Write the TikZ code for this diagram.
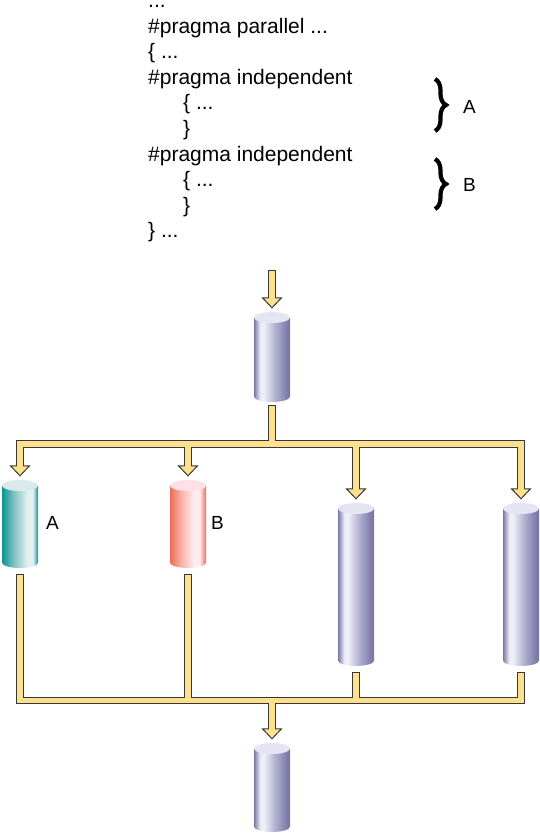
\documentclass[tikz,border=0pt]{standalone}
\usepackage{fontspec}
\setmainfont{Liberation Sans}
\usetikzlibrary{decorations.pathreplacing,calc}

% pipe colours
\definecolor{pipeline}{RGB}{55,55,55}
\definecolor{pipeyellow}{RGB}{253,224,142}
% drum colours
\definecolor{pdark}{RGB}{122,120,168}
\definecolor{pmid}{RGB}{175,174,206}
\definecolor{plight}{RGB}{238,238,247}
\definecolor{plid}{RGB}{228,228,242}
\definecolor{tdark}{RGB}{10,148,146}
\definecolor{tmid}{RGB}{120,190,188}
\definecolor{tlight}{RGB}{226,240,240}
\definecolor{tlid}{RGB}{218,234,234}
\definecolor{rdark}{RGB}{236,108,88}
\definecolor{rmid}{RGB}{248,175,165}
\definecolor{rlight}{RGB}{255,236,240}
\definecolor{rlid}{RGB}{255,224,230}

\pgfdeclarehorizontalshading{drumpurple}{100bp}{color(0bp)=(pdark); color(25bp)=(pdark); color(29bp)=(pmid); color(34bp)=(plight); color(39bp)=(plight); color(55bp)=(pmid); color(72bp)=(pdark); color(100bp)=(pdark)}
\pgfdeclarehorizontalshading{drumteal}{100bp}{color(0bp)=(tdark); color(25bp)=(tdark); color(40bp)=(tmid); color(60bp)=(tlight); color(68bp)=(tlight); color(75bp)=(tdark); color(100bp)=(tdark)}
\pgfdeclarehorizontalshading{drumred}{100bp}{color(0bp)=(rdark); color(25bp)=(rdark); color(40bp)=(rmid); color(58bp)=(rlight); color(66bp)=(rlight); color(75bp)=(rdark); color(100bp)=(rdark)}

% a shaded drum with a light lid, plus a named node covering it
\newcommand\drum[6]{%
  \shade[shading=#5] ({#2-18},{#3+5.5}) -- ({#2-18},{#4-5.5})
    arc[start angle=180,end angle=0,x radius=18,y radius=5.5]
    -- ({#2+18},{#3+5.5}) -- cycle;
  \fill[#6] (#2,{#3+5.5}) ellipse[x radius=18,y radius=5.5];
  \node[inner sep=0,minimum width=36pt,minimum height={#4-#3}] (#1) at (#2,{(#3+#4)/2}) {};
}

% every pipe run, drawn once as outline and once as fill
\newcommand\pipework[1]{%
  \draw[#1] (in) -- ([yshift=14pt]top.north);
  \draw[#1] ([yshift=-6.75pt]top.south) -- (split);
  \draw[#1] ([yshift=14pt]A.north) |- (split -| D.north) -- ([yshift=14pt]D.north);
  \draw[#1] (split -| B.north) -- ([yshift=14pt]B.north);
  \draw[#1] (split -| C.north) -- ([yshift=14pt]C.north);
  \draw[#1] ([yshift=-9.75pt]A.south) |- (merge -| D.south) -- ([yshift=-9.75pt]D.south);
  \draw[#1] ([yshift=-9.75pt]B.south) -- (merge -| B.south);
  \draw[#1] ([yshift=-9.75pt]C.south) -- (merge -| C.south);
  \draw[#1] (merge) -- ([yshift=14pt]bot.north);
}

% arrow head sitting just above a drum
\newcommand\headon[1]{%
  \filldraw[pipehead] ([xshift=-9.5pt,yshift=14pt]#1.north) -- ([yshift=4pt]#1.north)
    -- ([xshift=9.5pt,yshift=14pt]#1.north) -- cycle;
}

\begin{document}
\begin{tikzpicture}[x=1pt,y=-1pt,
  code/.style={anchor=base west,inner sep=0,font=\fontsize{21}{25}\selectfont},
  tag/.style={anchor=base west,inner sep=0,font=\fontsize{19}{23}\selectfont},
  pipeedge/.style={draw=pipeline,line width=7.5pt,line cap=rect,line join=miter},
  pipefill/.style={draw=pipeyellow,line width=5.5pt,line cap=rect,line join=miter},
  pipehead/.style={fill=pipeyellow,draw=pipeline,line width=1pt,line join=miter},
  curly/.style={decorate,decoration={brace,amplitude=11pt},line width=4.2pt}]
\useasboundingbox (0,0) rectangle (540,833);

% source code
\node[code] (l1)  at (148,7.4)   {\smash{...}};
\node[code] (l2)  at (148,33)    {\#pragma parallel ...};
\node[code] (l3)  at (148,58.6)  {\{ ...};
\node[code] (l4)  at (148,84.2)  {\#pragma independent};
\node[code] (l5)  at (183,109.8) {\{ ...};
\node[code] (l6)  at (183,135.4) {\}};
\node[code] (l7)  at (148,161)   {\#pragma independent};
\node[code] (l8)  at (183,186.6) {\{ ...};
\node[code] (l9)  at (183,212.2) {\}};
\node[code] (l10) at (148,237.8) {\} ...};

% braces marking the two independent blocks
\draw[curly] (435,79) -- (435,131);
\node[tag] (ba) at (463,113) {A};
\draw[curly] (435,159) -- (435,209);
\node[tag] (bb) at (463,191) {B};

% drums
\drum{top}{272}{312}{402}{drumpurple}{plid}
\drum{A}{20}{480}{568}{drumteal}{tlid}
\drum{B}{188}{480}{568}{drumred}{rlid}
\drum{C}{356}{503}{666}{drumpurple}{plid}
\drum{D}{521}{503}{666}{drumpurple}{plid}
\drum{bot}{272}{743}{832}{drumpurple}{plid}

\node[tag] (la) at (46,529) {A};
\node[tag] (lb) at (211,529) {B};

% pipe junctions
\coordinate (in) at (272,273.75);
\coordinate (split) at (272,444);
\coordinate (merge) at (272,700.5);

\pipework{pipeedge}
\headon{top}\headon{A}\headon{B}\headon{C}\headon{D}\headon{bot}
\pipework{pipefill}
\end{tikzpicture}
\end{document}
